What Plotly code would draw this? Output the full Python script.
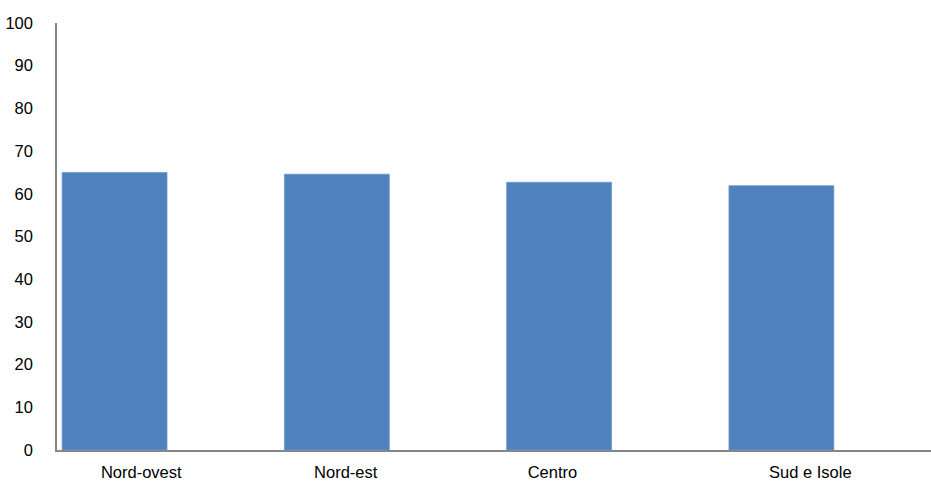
import plotly.graph_objects as go

categories = ["Nord-ovest", "Nord-est", "Centro", "Sud e Isole"]
values = [65.0, 64.6, 62.7, 61.9]
y_ticks = [0, 10, 20, 30, 40, 50, 60, 70, 80, 90, 100]

FONT = "Liberation Sans Narrow, Arial Narrow, Liberation Sans, Arial, sans-serif"

x_pos = list(range(len(categories)))
label_pos = [0.12, 1.04, 1.97, 3.13]

fig = go.Figure(go.Bar(
    x=x_pos, y=values, width=0.472,
    marker=dict(color="#4F81BD", line=dict(color="#6F9AD0", width=0.8)),
    hoverinfo="y",
))

fig.update_layout(
    width=931, height=484,
    margin=dict(l=57, r=0, t=23, b=34, autoexpand=False),
    paper_bgcolor="white", plot_bgcolor="white",
    showlegend=False,
    font=dict(family=FONT, size=16.5, color="#000000"),
    xaxis=dict(
        range=[-0.259, 3.673], tickmode="array",
        tickvals=label_pos, ticktext=categories,
        showgrid=False, zeroline=False, ticks="",
        showline=True, linecolor="#868686", linewidth=2,
        ticklabelstandoff=6, automargin=False,
    ),
    yaxis=dict(
        range=[0, 100], tickmode="array", tickvals=y_ticks,
        showgrid=False, zeroline=False, ticks="",
        showline=True, linecolor="#868686", linewidth=1.5,
        ticklabelstandoff=19, automargin=False,
    ),
)

fig.write_html("out.html")
